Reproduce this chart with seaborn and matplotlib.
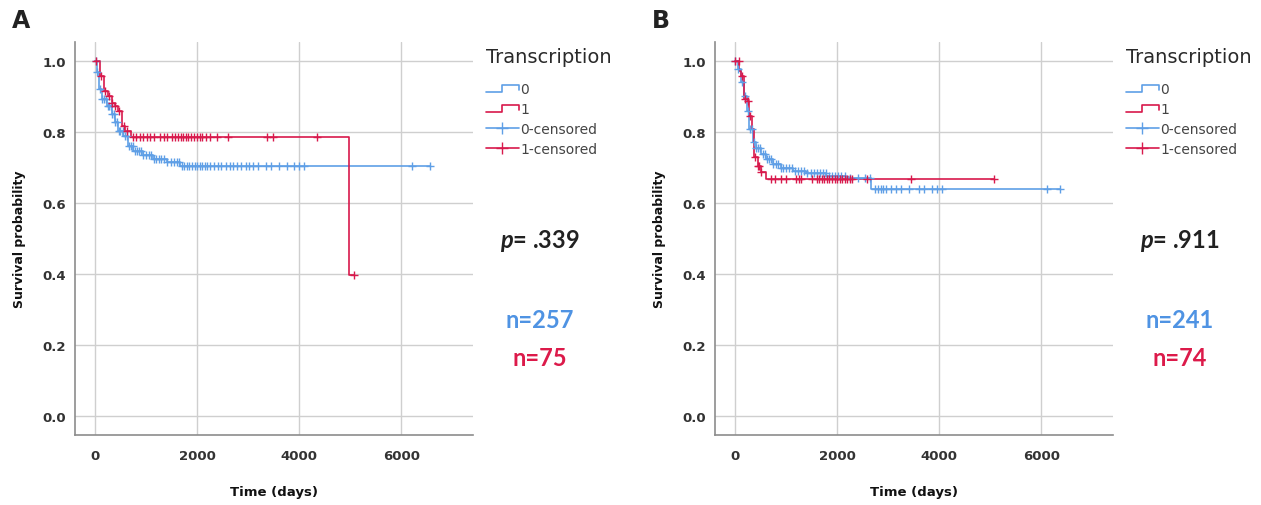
import numpy as np
import pandas as pd
import matplotlib
matplotlib.use('Agg')
import matplotlib.pyplot as plt
import seaborn as sns
from matplotlib.legend_handler import HandlerBase
from matplotlib.lines import Line2D

BLUE = '#5f9fe6'
RED = '#d8194c'
TEXT_BLUE = '#4f93e3'
TEXT_RED = '#dc1a4a'

# panel A: Kaplan-Meier steps (time in days, survival after the step)
a0_times = [0, 32, 78, 131, 229, 326, 391, 456, 554, 652, 750, 945, 1141, 1403, 1663, 6550]
a0_surv = [1.0, 0.969, 0.922, 0.894, 0.875, 0.851, 0.828, 0.804, 0.790, 0.762, 0.748, 0.736, 0.724, 0.715, 0.704, 0.704]
a1_times = [0, 98, 183, 261, 326, 391, 456, 522, 587, 700, 4965, 5070]
a1_surv = [1.0, 0.959, 0.917, 0.903, 0.884, 0.873, 0.861, 0.818, 0.804, 0.786, 0.397, 0.397]
a0_cens = [20, 45, 90, 140, 170, 210, 250, 280, 310, 340, 370, 400, 430, 470, 500, 540, 580, 620,
           660, 700, 740, 780, 820, 860, 900, 950, 1000, 1050, 1100, 1150, 1200, 1250, 1300, 1360,
           1420, 1480, 1540, 1600, 1650, 1700, 1750, 1800, 1850, 1900, 1950, 2000, 2050, 2100, 2150,
           2200, 2260, 2330, 2400, 2470, 2560, 2640, 2700, 2780, 2850, 2950, 3020, 3100, 3200, 3350,
           3450, 3600, 3750, 3900, 4000, 4100, 6200, 6550]
a1_cens = [30, 110, 190, 270, 330, 400, 470, 560, 620, 740, 800, 880, 950, 1020, 1080, 1150, 1280,
           1350, 1420, 1500, 1560, 1620, 1680, 1720, 1780, 1830, 1880, 1940, 2000, 2050, 2100, 2180,
           2250, 2380, 2600, 3360, 3480, 4350, 5070]

# panel B
b0_times = [0, 52, 117, 183, 228, 280, 346, 411, 509, 607, 737, 900, 1128, 1389, 1781, 2172, 2661, 6360]
b0_surv = [1.0, 0.978, 0.941, 0.903, 0.861, 0.809, 0.772, 0.757, 0.739, 0.724, 0.710, 0.698, 0.692, 0.685, 0.677, 0.670, 0.640, 0.640]
b1_times = [0, 85, 117, 183, 248, 280, 326, 378, 443, 509, 607, 5075]
b1_surv = [1.0, 0.974, 0.960, 0.894, 0.889, 0.847, 0.809, 0.729, 0.706, 0.687, 0.667, 0.667]
b0_cens = [10, 60, 130, 200, 250, 300, 340, 380, 420, 460, 500, 540, 580, 620, 660, 700, 740, 800,
           850, 900, 950, 1000, 1060, 1120, 1180, 1240, 1300, 1360, 1420, 1480, 1540, 1600, 1660,
           1720, 1780, 1840, 1900, 1960, 2020, 2080, 2150, 2250, 2400, 2550, 2650, 2750, 2800, 2850,
           2900, 2960, 3050, 3150, 3250, 3400, 3600, 3700, 3850, 3950, 4050, 6100, 6360]
b1_cens = [0, 80, 130, 200, 260, 290, 390, 450, 480, 520, 700, 780, 900, 1000, 1200, 1250, 1300,
           1500, 1600, 1650, 1700, 1750, 1800, 1850, 1900, 1950, 2000, 2050, 2100, 2150, 2200, 2250,
           2300, 2580, 3440, 5075]

panels = [
    ('A', (a0_times, a0_surv, a0_cens), (a1_times, a1_surv, a1_cens), '.339', 'n=257', 'n=75'),
    ('B', (b0_times, b0_surv, b0_cens), (b1_times, b1_surv, b1_cens), '.911', 'n=241', 'n=74'),
]


class StepHandler(HandlerBase):
    def create_artists(self, legend, orig_handle, xd, yd, width, height, fontsize, trans):
        x = [-xd, -xd + 0.5 * width, -xd + 0.5 * width, -xd + width, -xd + width]
        y = [-yd + 0.15 * height, -yd + 0.15 * height, -yd + 0.85 * height, -yd + 0.85 * height, -yd + 0.3 * height]
        line = Line2D(x, y, color=orig_handle.get_color(), lw=1.2, transform=trans)
        return [line]


def surv_at(times, surv, t):
    idx = np.searchsorted(times, t, side='right') - 1
    return np.asarray(surv)[idx]


def draw_panel(fig, left_px, letter, g0, g1, pval, n0, n1):
    W, H = 1261, 506
    ax = fig.add_axes([left_px / W, (H - 436) / H, 398 / W, 393 / H])
    for grp, (times, surv, cens), color in (('0', g0, BLUE), ('1', g1, RED)):
        steps = pd.DataFrame({'time': times, 'surv': surv})
        sns.lineplot(data=steps, x='time', y='surv', drawstyle='steps-post', color=color,
                     lw=1.2, sort=False, estimator=None, ax=ax)
        marks = pd.DataFrame({'time': cens, 'surv': surv_at(times, surv, cens)})
        sns.scatterplot(data=marks, x='time', y='surv', marker='+', s=40, color=color,
                        linewidth=1.0, ax=ax, zorder=3)
    ax.set_xlim(-390, 7400)
    ax.set_ylim(-0.055, 1.055)
    ax.set_xticks([0, 2000, 4000, 6000])
    ax.set_yticks([0.0, 0.2, 0.4, 0.6, 0.8, 1.0])
    ax.set_yticklabels(['0.0', '0.2', '0.4', '0.6', '0.8', '1.0'])
    ax.grid(True, color='#cfcfcf', lw=1.0)
    ax.set_axisbelow(True)
    for s in ('top', 'right'):
        ax.spines[s].set_visible(False)
    for s in ('left', 'bottom'):
        ax.spines[s].set_color('#8c8c8c')
        ax.spines[s].set_linewidth(1.2)
    ax.tick_params(axis='both', length=3, color='#bbbbbb', labelsize=9.5, labelcolor='#333333')
    ax.tick_params(axis='x', length=0, pad=10)
    for lab in ax.get_xticklabels() + ax.get_yticklabels():
        lab.set_fontweight('bold')
    ax.set_xlabel('Time (days)', fontsize=9.5, fontweight='bold', color='#111111', labelpad=17)
    ax.set_ylabel('Survival probability', fontsize=9, fontweight='bold', color='#111111', labelpad=12)

    h0 = Line2D([], [], color=BLUE)
    h1 = Line2D([], [], color=RED)
    c0 = Line2D([], [], color=BLUE, marker='+', markersize=9, lw=1.2)
    c1 = Line2D([], [], color=RED, marker='+', markersize=9, lw=1.2)
    leg = ax.legend([h0, h1, c0, c1], ['0', '1', '0-censored', '1-censored'],
                    handler_map={h0: StepHandler(), h1: StepHandler()},
                    title='Transcription', loc='upper left', frameon=False,
                    bbox_to_anchor=((left_px + 405) / W, 1 - 42 / H), bbox_transform=fig.transFigure,
                    fontsize=10, title_fontsize=14, handlelength=2.4, handletextpad=0.1,
                    labelspacing=0.42, borderaxespad=0)
    leg._legend_box.align = 'left'
    leg._legend_box.sep = 12
    leg.get_title().set_color('#2a2a2a')
    for t in leg.get_texts():
        t.set_color('#444444')

    cx = (left_px + 465) / W
    fig.text(cx, 1 - 241 / H, r'$\bfit{p}$' + '= ' + pval, ha='center', va='center',
             fontsize=17, fontweight='bold', color='#222222', family='Lato')
    fig.text(cx, 1 - 320 / H, n0, ha='center', va='center', fontsize=17, fontweight='bold',
             color=TEXT_BLUE, family='Lato')
    fig.text(cx, 1 - 358 / H, n1, ha='center', va='center', fontsize=17, fontweight='bold',
             color=TEXT_RED, family='Lato')
    fig.text((left_px - 54) / W, 1 - 21 / H, letter, ha='center', va='center', fontsize=17,
             fontweight='bold', color='#222222')
    return ax


def main():
    sns.set_style('white')
    plt.rcParams['font.family'] = ['DejaVu Sans']
    plt.rcParams['mathtext.fontset'] = 'custom'
    plt.rcParams['mathtext.bfit'] = 'Lato:bold:italic'
    fig = plt.figure(figsize=(12.61, 5.06), dpi=100)
    for left_px, (letter, g0, g1, pval, n0, n1) in zip([75, 715], panels):
        draw_panel(fig, left_px, letter, g0, g1, pval, n0, n1)
    fig.savefig('out.png', dpi=100, facecolor='white')


if __name__ == '__main__':
    main()
